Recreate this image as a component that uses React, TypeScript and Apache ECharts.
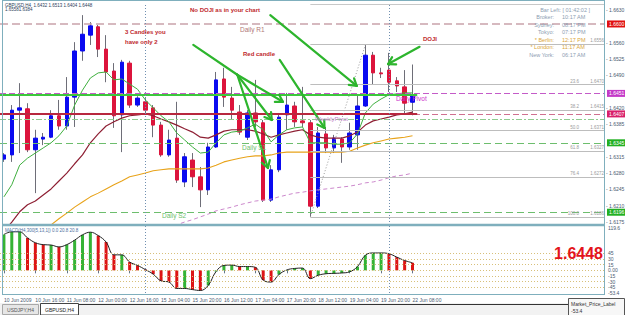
import React, { useEffect, useRef } from "react";
import * as echarts from "echarts";

// ---------------- data ----------------
const BASE = 1.6175; // reference price for the internal pip scale
const PRICE_MIN = 1.61686;
const PRICE_MAX = 1.6645;

// visible price-axis labels (1.6595, 1.6455 and 1.6350 are hidden under the level boxes)
const priceTicks = [
  1.663, 1.656, 1.6525, 1.649, 1.642, 1.6385, 1.6315,
  1.628, 1.6245, 1.621, 1.6175,
];

const timeLabels = [
  "10 Jun 2009", "10 Jun 16:00", "11 Jun 08:00", "12 Jun 00:00", "12 Jun 16:00",
  "15 Jun 04:00", "15 Jun 20:00", "16 Jun 12:00", "17 Jun 04:00", "17 Jun 20:00",
  "18 Jun 12:00", "19 Jun 04:00", "19 Jun 20:00", "22 Jun 08:00",
];

// [open, close, low, high]
const candles = [
  [1.6310, 1.6319, 1.6304, 1.6323],
  [1.6319, 1.6415, 1.6304, 1.6426],
  [1.6415, 1.6420, 1.6323, 1.6473],
  [1.6418, 1.6330, 1.6325, 1.6430],
  [1.6330, 1.6355, 1.6237, 1.6373],
  [1.6353, 1.6357, 1.6340, 1.6366],
  [1.6357, 1.6403, 1.6355, 1.6415],
  [1.6403, 1.6381, 1.6373, 1.6437],
  [1.6381, 1.6443, 1.6373, 1.6486],
  [1.6443, 1.6542, 1.6379, 1.6561],
  [1.6542, 1.6578, 1.6521, 1.6619],
  [1.6576, 1.6596, 1.6555, 1.6604],
  [1.6594, 1.6546, 1.6529, 1.6598],
  [1.6546, 1.6497, 1.6475, 1.6576],
  [1.6499, 1.6403, 1.6377, 1.6516],
  [1.6405, 1.6518, 1.6325, 1.6523],
  [1.6516, 1.6426, 1.6420, 1.6521],
  [1.6426, 1.6441, 1.6422, 1.6445],
  [1.6433, 1.6415, 1.6409, 1.6443],
  [1.6420, 1.6383, 1.6357, 1.6426],
  [1.6383, 1.6319, 1.6315, 1.6390],
  [1.6319, 1.6351, 1.6315, 1.6373],
  [1.6355, 1.6265, 1.6259, 1.6433],
  [1.6261, 1.6315, 1.6250, 1.6323],
  [1.6308, 1.6272, 1.6250, 1.6323],
  [1.6272, 1.6244, 1.6207, 1.6293],
  [1.6244, 1.6336, 1.6233, 1.6345],
  [1.6336, 1.6480, 1.6334, 1.6497],
  [1.6482, 1.6443, 1.6422, 1.6506],
  [1.6441, 1.6415, 1.6394, 1.6465],
  [1.6411, 1.6368, 1.6362, 1.6426],
  [1.6357, 1.6409, 1.6351, 1.6415],
  [1.6409, 1.6390, 1.6379, 1.6480],
  [1.6388, 1.6222, 1.6218, 1.6394],
  [1.6222, 1.6287, 1.6218, 1.6297],
  [1.6287, 1.6400, 1.6282, 1.6409],
  [1.6405, 1.6426, 1.6373, 1.6452],
  [1.6424, 1.6390, 1.6379, 1.6433],
  [1.6392, 1.6388, 1.6379, 1.6465],
  [1.6388, 1.6209, 1.6186, 1.6394],
  [1.6209, 1.6366, 1.6205, 1.6379],
  [1.6364, 1.6334, 1.6323, 1.6379],
  [1.6334, 1.6355, 1.6323, 1.6362],
  [1.6353, 1.6336, 1.6302, 1.6357],
  [1.6336, 1.6366, 1.6330, 1.6388],
  [1.6362, 1.6424, 1.6330, 1.6448],
  [1.6424, 1.6533, 1.6422, 1.6555],
  [1.6533, 1.6495, 1.6469, 1.6540],
  [1.6495, 1.6493, 1.6484, 1.6506],
  [1.6501, 1.6475, 1.6454, 1.6538],
  [1.6478, 1.6467, 1.6454, 1.6486],
  [1.6465, 1.6430, 1.6405, 1.6501],
  [1.6432, 1.6448, 1.6404, 1.6513],
];

const maFast = [
  1.6229, 1.6255, 1.6297, 1.6312, 1.6323, 1.6334, 1.6345, 1.6360, 1.6381, 1.6426,
  1.6458, 1.6484, 1.6495, 1.6497, 1.6480, 1.6482, 1.6471, 1.6460, 1.6437, 1.6420,
  1.6403, 1.6390, 1.6366, 1.6351, 1.6336, 1.6323, 1.6325, 1.6345, 1.6362, 1.6368,
  1.6370, 1.6377, 1.6385, 1.6373, 1.6347, 1.6362, 1.6373, 1.6377, 1.6379, 1.6345,
  1.6345, 1.6345, 1.6342, 1.6342, 1.6345, 1.6364, 1.6409, 1.6428, 1.6439, 1.6448,
  1.6450, 1.6452, 1.6452,
];

const maMid = [
  1.6154, 1.6175, 1.6197, 1.6212, 1.6220, 1.6233, 1.6246, 1.6263, 1.6280, 1.6300,
  1.6319, 1.6345, 1.6364, 1.6381, 1.6390, 1.6398, 1.6403, 1.6405, 1.6407, 1.6403,
  1.6396, 1.6390, 1.6383, 1.6375, 1.6368, 1.6357, 1.6355, 1.6362, 1.6370, 1.6373,
  1.6373, 1.6373, 1.6370, 1.6364, 1.6357, 1.6362, 1.6366, 1.6370, 1.6373, 1.6362,
  1.6357, 1.6355, 1.6355, 1.6355, 1.6360, 1.6368, 1.6383, 1.6392, 1.6396, 1.6400,
  1.6405, 1.6407, 1.6411,
];

const maSlow = [
  null, null, null, 1.6126, 1.6141, 1.6157, 1.6169, 1.6182, 1.6194, 1.6207,
  1.6218, 1.6229, 1.6237, 1.6246, 1.6255, 1.6263, 1.6272, 1.6276, 1.6280, 1.6285,
  1.6287, 1.6289, 1.6289, 1.6289, 1.6289, 1.6289, 1.6291, 1.6297, 1.6304, 1.6308,
  1.6312, 1.6315, 1.6317, 1.6317, 1.6319, 1.6323, 1.6325, 1.6325, 1.6325, 1.6325,
  1.6325, 1.6325, 1.6325, 1.6325, 1.6327, 1.6334, 1.6340, 1.6345, 1.6349, 1.6353,
  1.6355, 1.6357, 1.6360,
];

const maLong = [
  null, null, null, null, null, null, null, null, null, null,
  null, null, null, null, null, null, null, null, null, null,
  1.6157, 1.6163, 1.6169, 1.6175, 1.6180, 1.6186, 1.6192, 1.6199, 1.6203, 1.6207,
  1.6212, 1.6216, 1.6220, 1.6222, 1.6224, 1.6229, 1.6233, 1.6237, 1.6239, 1.6242,
  1.6244, 1.6246, 1.6248, 1.6250, 1.6252, 1.6255, 1.6259, 1.6261, 1.6265, 1.6270,
  1.6274, 1.6276, 1.6280,
];

const macdHist = [
  95, 102, 102, 86, 73, 68, 67, 62, 68, 80,
  94, 101, 92, 75, 41, 41, 22, 13, 2, -10,
  -28, -31, -48, -48, -51, -53.4, -40, -3, 13, 14,
  10, 10, 8, -26, -31, -11, 1, 5, 6, -22,
  -13, -9, -8, -7, -4, 10, 40, 46, 46, 44,
  35, 26, 20,
];
const macdUp = [
  1, 1, 1, 0, 0, 0, 1, 0, 1, 1,
  1, 1, 0, 0, 0, 1, 0, 0, 0, 0,
  0, 0, 0, 1, 0, 0, 1, 1, 1, 1,
  0, 1, 0, 0, 0, 1, 1, 1, 1, 0,
  1, 1, 1, 1, 1, 1, 1, 1, 1, 0,
  0, 0, 0,
];
const macdLevels = [45, 30, 15, 0, -15, -30, -45];
const macdMaxLabel = 119.6;
const macdMinLabel = -53.4;

// horizontal levels
const dailyR1 = 1.66;
const dailyPivot = 1.6451;
const weeklyPivot = 1.6407;
const weeklyMid = 1.6396;
const dailyS1 = 1.6345;
const dailyS2 = 1.6196;
const greenLevel = 1.6449;
const levelsEndIdx = 52.6;

// fibonacci (from the low of candle 39 to the high of candle 46)
const fibStartIdx = 39;
const fibLevels = ["", "23.6", "38.2", "50.0", "61.8", "76.4", "100.0"];
const fibPrices = [1.6556, 1.647, 1.6415, 1.6371, 1.6327, 1.6272, 1.6186];
const fibExtra = 1.6643;
const fibTrend = [39, 1.6186, 46, 1.6555];

const separators = [18, 49];

// annotation arrows [fromIdx, fromPrice, toIdx, toPrice, hasHead]
const arrows = [
  [33.9, 1.6619, 44.9, 1.6467, 1],
  [24.1, 1.6555, 29.7, 1.6491, 0],
  [29.7, 1.6491, 35.5, 1.6433, 1],
  [29.7, 1.6491, 34.1, 1.6394, 1],
  [29.7, 1.6491, 33.6, 1.6291, 1],
  [35.1, 1.6523, 40.8, 1.6377, 1],
  [52.9, 1.6551, 48.9, 1.6514, 1],
];

// ---------------- layout / style ----------------
const SLOTS = 77;
const FONT = '"Liberation Sans", Arial, sans-serif';
const BULL = "#0A0AF0";
const BEAR = "#DC143C";
const WICK = "#6E6E78";
const FRAME = "#7FAFBD";
const ARROW = "#2DB52D";
const AXIS_TXT = "#4A5A70";

const toV = (p: number | null) => (p == null ? null : +((p - BASE) * 10000).toFixed(3));

function buildOption() {
  const categories = Array.from({ length: SLOTS }, (_, i) => String(i));
  const xL = -0.5;
  const xR = SLOTS - 0.5;

  const seg = (x1: number, p1: number, x2: number, p2: number, lineStyle: any, label?: any) => [
    { coord: [x1, toV(p1)], lineStyle, label: label || { show: false } },
    { coord: [x2, toV(p2)] },
  ];
  const box = (text: string, bg: string) => ({
    show: true,
    position: "end",
    distance: 2,
    formatter: text,
    backgroundColor: bg,
    color: "#fff",
    fontSize: 5,
    fontFamily: FONT,
    padding: [1, 2, 1, 2],
  });
  const nb = (n: number) => "\u00a0".repeat(n);
  const hidden = { color: "rgba(0,0,0,0)", width: 0 };

  const levelLines: any[] = [
    // price-axis tick labels
    ...priceTicks.map((p) =>
      seg(xL, p, xR, p, hidden, {
        show: true,
        position: "end",
        distance: 1,
        formatter: "\u2010 " + p.toFixed(4),
        color: AXIS_TXT,
        fontSize: 5,
        fontFamily: FONT,
      })
    ),
    seg(xL, dailyR1, xR, dailyR1, { color: "#C9A2AA", type: [8, 4], width: 1.6 }, box("1.6600", "#E01010")),
    seg(xL, dailyPivot, xR, dailyPivot, { color: "#C45BC8", type: [6, 3], width: 1 }, box("1.6451", "#C43AC8")),
    seg(xL, greenLevel, levelsEndIdx, greenLevel, { color: "#3CC83C", type: "solid", width: 2 }),
    seg(xL, weeklyPivot, xR, weeklyPivot, { color: "#D07090", type: [6, 3], width: 1 }, box("1.6407", "#D8206A")),
    seg(xL, weeklyPivot, levelsEndIdx, weeklyPivot, { color: "#B8283F", type: "solid", width: 2.2 }),
    seg(xL, weeklyMid, xR, weeklyMid, { color: "#8FCB8F", type: [6, 2, 2, 2], width: 1 }),
    seg(xL, dailyS1, xR, dailyS1, { color: "#6DBE6D", type: [7, 4], width: 1.2 }, box("1.6345", "#22B022")),
    seg(xL, dailyS2, xR, dailyS2, { color: "#6DBE6D", type: [7, 4], width: 1.2 }, box("1.6196", "#22B022")),
    seg(fibStartIdx, fibExtra, xR, fibExtra, { color: "#C8C8C8", type: "solid", width: 1 }),
    seg(fibTrend[0], fibTrend[1], fibTrend[2], fibTrend[3], { color: "#9A9A9A", type: [1, 2], width: 1 }),
    ...fibPrices.map((p, k) =>
      seg(fibStartIdx, p, xR, p, { color: "#BDBDBD", type: "solid", width: 1 }, {
        show: true,
        position: "insideEndTop",
        distance: 1,
        formatter: fibLevels[k] ? `${fibLevels[k]}${nb(9)}${p.toFixed(4)}` : p.toFixed(4),
        color: "#9A9A9A",
        fontSize: 4.5,
        fontFamily: FONT,
      })
    ),
    ...separators.map((s) => ({
      xAxis: s,
      lineStyle: { color: "#6F8FB0", type: [1, 2], width: 1 },
      label: { show: false },
    })),
  ];

  const indicatorMarks: any[] = [
    ...macdLevels.map((v) => ({
      yAxis: v,
      lineStyle: { color: "#D8C07A", type: [1, 2], width: 1 },
      label: { show: false },
    })),
    ...separators.map((s) => ({
      xAxis: s,
      lineStyle: { color: "#6F8FB0", type: [1, 2], width: 1 },
      label: { show: false },
    })),
    ...[macdMaxLabel, macdMinLabel].map((v) => ({
      yAxis: v,
      lineStyle: hidden,
      label: {
        show: true,
        position: "end",
        distance: 3,
        formatter: String(v),
        color: AXIS_TXT,
        fontSize: 5,
        fontFamily: FONT,
        verticalAlign: "top",
      },
    })),
  ];

  const maLine = (data: (number | null)[], color: string, width: number, type: any = "solid", z = 4) => ({
    type: "line",
    xAxisIndex: 0,
    yAxisIndex: 0,
    data: data.map(toV),
    showSymbol: false,
    symbol: "none",
    silent: true,
    z,
    lineStyle: { color, width, type },
  });

  const txt = (x: number, y: number, text: string, font: string, fill: string, align = "left") => ({
    type: "text",
    x,
    y,
    z: 60,
    silent: true,
    style: { text, font, fill, textAlign: align, textVerticalAlign: "middle" },
  });
  const hl = (x1: number, y1: number, x2: number, y2: number, stroke: string, w: number) => ({
    type: "line",
    z: 50,
    silent: true,
    shape: { x1, y1, x2, y2 },
    style: { stroke, lineWidth: w },
  });

  const small = `4.5px ${FONT}`;
  const anno = `bold 6px ${FONT}`;
  const info = `5.5px ${FONT}`;
  const INFO = "#8C9DB2";
  const GOLD = "#D9A53A";

  const graphic: any[] = [
    // frame
    hl(2.5, 0, 2.5, 295, FRAME, 1),
    hl(604.5, 0, 604.5, 295, FRAME, 1),
    hl(2, 0.5, 605, 0.5, FRAME, 1),
    hl(2, 225, 605, 225, FRAME, 2.5),
    hl(2, 294.5, 605, 294.5, FRAME, 1),
    // bottom tab strip
    { type: "rect", z: 40, silent: true, shape: { x: 0, y: 303, width: 625, height: 12 }, style: { fill: "#F2F2F2" } },
    hl(79, 304.5, 568, 304.5, "#333", 1),
    { type: "rect", z: 45, silent: true, shape: { x: 2.5, y: 304.5, width: 36, height: 10 }, style: { fill: "#E6E6E6", stroke: "#A8A8A8", lineWidth: 1 } },
    txt(20.5, 309.5, "USDJPY,H4", `5px ${FONT}`, "#555", "center"),
    { type: "rect", z: 45, silent: true, shape: { x: 40.5, y: 303.5, width: 38, height: 11.5 }, style: { fill: "#FFFFFF", stroke: "#444", lineWidth: 1 } },
    txt(59.5, 309.5, "GBPUSD,H4", `5px ${FONT}`, "#222", "center"),
    { type: "rect", z: 45, silent: true, shape: { x: 568.5, y: 298.5, width: 56, height: 17 }, style: { fill: "#F7F7F7", stroke: "#555", lineWidth: 1 } },
    txt(571, 303.5, "Market_Price_Label", `5px ${FONT}`, "#333"),
    txt(571, 311, "-53.4", `5px ${FONT}`, "#333"),
    // header
    txt(5, 5, "GBPUSD,H4  1.6432 1.6513 1.6404 1.6448", small, "#2B3D5A"),
    txt(5, 9.5, "1.65581.6384", small, "#2B3D5A"),
    txt(5, 230, "MACD(H4,300[5,13,1]) 0.0 20.8 20.8", small, "#4A6FA0"),
    // annotations
    txt(190, 10, "No DOJI as in your chart", anno, "#C0282D"),
    txt(125, 32, "3 Candles you", anno, "#C0282D"),
    txt(125, 42, "have only 2", anno, "#C0282D"),
    txt(243, 54, "Red candle", anno, "#C0282D"),
    txt(423, 39, "DOJI", anno, "#C0282D"),
    txt(240, 29, "Daily R1", `6.5px ${FONT}`, "#B07878"),
    txt(242, 147, "Daily S1", `6.5px ${FONT}`, "#6CC06C"),
    txt(162, 215, "Daily S2", `6.5px ${FONT}`, "#6CC06C"),
    txt(315, 119, "WeeklyPivot", `6px ${FONT}`, "#C080C8"),
    txt(396, 98, "Daily Pivot", `6.5px ${FONT}`, "#CC33CC"),
    // clock panel
    txt(590, 10, "Bar Left: [ 01:42:02 ]", info, INFO, "right"),
    txt(554, 17.3, "Broker:", info, INFO, "right"),
    txt(562, 17.3, "10:17 AM", info, INFO),
    txt(554, 25, "Sydney:", info, INFO, "right"),
    txt(562, 25, "08:17 PM", info, INFO),
    txt(554, 32.3, "Tokyo:", info, INFO, "right"),
    txt(562, 32.3, "07:17 PM", info, INFO),
    txt(554, 40, "* Berlin:", info, GOLD, "right"),
    txt(562, 40, "12:17 PM", info, GOLD),
    txt(554, 47.3, "* London:", info, GOLD, "right"),
    txt(562, 47.3, "11:17 AM", info, GOLD),
    txt(554, 54.6, "New York:", info, INFO, "right"),
    txt(562, 54.6, "06:17 AM", info, INFO),
    // big price
    txt(603, 253.5, "1.6448", `bold 16px ${FONT}`, "#E3141B", "right"),
  ];

  return {
    animation: false,
    backgroundColor: "#FFFFFF",
    grid: [
      { left: -1, right: 20, top: 3, height: 222 },
      { left: -1, right: 20, top: 225, height: 68 },
    ],
    xAxis: [
      { type: "category", gridIndex: 0, data: categories, boundaryGap: true, show: false },
      {
        type: "category",
        gridIndex: 1,
        data: categories,
        boundaryGap: true,
        axisLine: { show: false },
        axisTick: {
          show: true,
          length: 3,
          alignWithLabel: true,
          interval: (i: number) => i % 4 === 0 && i / 4 < timeLabels.length,
          lineStyle: { color: "#667788" },
        },
        axisLabel: {
          show: true,
          interval: (i: number) => i % 4 === 0 && i / 4 < timeLabels.length,
          formatter: (v: string) => {
            const i = Number(v);
            return i % 4 === 0 && timeLabels[i / 4] ? timeLabels[i / 4] : "";
          },
          align: "left",
          margin: 4,
          fontSize: 5,
          fontFamily: FONT,
          color: AXIS_TXT,
        },
        splitLine: { show: false },
      },
      { type: "value", gridIndex: 0, min: xL, max: xR, show: false },
    ],
    yAxis: [
      {
        type: "value",
        gridIndex: 0,
        position: "right",
        min: toV(PRICE_MIN),
        max: toV(PRICE_MAX),
        axisLine: { show: false },
        axisTick: { show: false },
        splitLine: { show: false },
        axisLabel: { show: false },
      },
      {
        type: "value",
        gridIndex: 1,
        position: "right",
        min: -60,
        max: 120,
        interval: 15,
        axisLine: { show: false },
        axisTick: { show: false },
        splitLine: { show: false },
        axisLabel: {
          margin: 3,
          fontSize: 5,
          fontFamily: FONT,
          color: AXIS_TXT,
          formatter: (v: number) => (Math.abs(v) <= 45 ? (v === 0 ? "0.00" : String(v)) : ""),
        },
      },
    ],
    series: [
      {
        type: "candlestick",
        name: "wicks",
        xAxisIndex: 0,
        yAxisIndex: 0,
        silent: true,
        z: 2,
        barWidth: 1,
        data: candles.map((c) => c.map((p) => toV(p))),
        itemStyle: { color: WICK, color0: WICK, borderColor: WICK, borderColor0: WICK, borderWidth: 1 },
      },
      {
        type: "candlestick",
        name: "bodies",
        xAxisIndex: 0,
        yAxisIndex: 0,
        silent: true,
        z: 3,
        barWidth: 4,
        data: candles.map(([o, c]) => [o, c, Math.min(o, c), Math.max(o, c)].map((p) => toV(p))),
        itemStyle: { color: BULL, color0: BEAR, borderColor: BULL, borderColor0: BEAR, borderWidth: 1 },
      },
      maLine(maLong, "#CC88CC", 1, [4, 3]),
      maLine(maSlow, "#E8A31A", 1.1),
      maLine(maMid, "#8E1F33", 1.2),
      maLine(maFast, "#3FAF3F", 1),
      {
        type: "line",
        name: "levels",
        xAxisIndex: 2,
        yAxisIndex: 0,
        data: [[xL, toV(dailyPivot)]],
        showSymbol: false,
        symbol: "none",
        silent: true,
        z: 5,
        lineStyle: { width: 0, color: "rgba(0,0,0,0)" },
        markLine: { symbol: "none", silent: true, animation: false, data: levelLines },
      },
      {
        type: "custom",
        name: "arrows",
        xAxisIndex: 2,
        yAxisIndex: 0,
        silent: true,
        z: 6,
        encode: { x: [0, 2], y: [1, 3] },
        data: arrows.map((a) => [a[0], toV(a[1]), a[2], toV(a[3]), a[4]]),
        renderItem: (_params: any, api: any) => {
          const a = api.coord([api.value(0), api.value(1)]);
          const b = api.coord([api.value(2), api.value(3)]);
          const st = { stroke: ARROW, lineWidth: 2.2, lineCap: "round" };
          const children: any[] = [{ type: "line", shape: { x1: a[0], y1: a[1], x2: b[0], y2: b[1] }, style: st }];
          if (api.value(4)) {
            const ang = Math.atan2(b[1] - a[1], b[0] - a[0]);
            for (const s of [-1, 1]) {
              const t = ang + Math.PI + s * 0.55;
              children.push({
                type: "line",
                shape: { x1: b[0], y1: b[1], x2: b[0] + 8 * Math.cos(t), y2: b[1] + 8 * Math.sin(t) },
                style: st,
              });
            }
          }
          return { type: "group", children };
        },
      },
      {
        type: "bar",
        name: "macd",
        xAxisIndex: 1,
        yAxisIndex: 1,
        silent: true,
        barWidth: 3,
        z: 3,
        data: macdHist.map((v, i) => ({ value: v, itemStyle: { color: macdUp[i] ? "#35B335" : "#DD1515" } })),
        markLine: { symbol: "none", silent: true, animation: false, data: indicatorMarks },
      },
      {
        type: "line",
        name: "macdLine",
        xAxisIndex: 1,
        yAxisIndex: 1,
        silent: true,
        z: 4,
        data: macdHist,
        smooth: 0.4,
        showSymbol: false,
        symbol: "none",
        lineStyle: { color: "#222", width: 1 },
      },
    ],
    graphic,
  };
}

export default function App() {
  const ref = useRef<HTMLDivElement>(null);
  useEffect(() => {
    if (!ref.current) return;
    const chart = echarts.init(ref.current, null, { renderer: "svg" });
    chart.setOption(buildOption() as any);
    return () => chart.dispose();
  }, []);
  return (
    <div
      ref={ref}
      style={{ position: "fixed", left: 0, top: 0, width: 625, height: 315, background: "#fff" }}
    />
  );
}
